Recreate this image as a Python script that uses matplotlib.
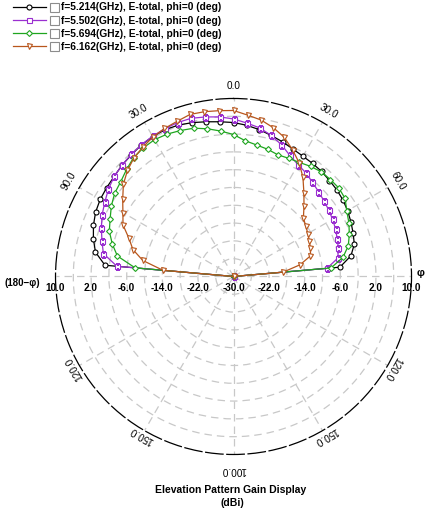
import numpy as np
import matplotlib
matplotlib.use('Agg')  # noqa
import matplotlib.pyplot as plt
from matplotlib.patches import Rectangle
from matplotlib.transforms import offset_copy

# elevation angle (deg), 0 = broadside, clockwise positive
theta_deg = np.arange(-90, 91, 5)

gain_5214 = [-30, -1.0, 1.5, 2.6, 3.5, 4.2, 4.6, 4.8, 5.0, 5.4, 5.7, 6.1, 6.3,
             6.4, 6.2, 5.8, 5.3, 4.9, 4.6, 4.1, 3.5, 2.8, 2.2, 1.6, 1.2, 1.0,
             0.8, 0.5, 0.3, 0.0, -0.4, -0.9, -1.4, -1.9, -3.2, -6.0, -30]
gain_5502 = [-30, -3.7, -0.3, 0.6, 1.6, 2.6, 3.4, 4.3, 5.0, 5.4, 5.8, 6.1, 6.4,
             6.6, 6.8, 6.8, 6.4, 6.0, 5.4, 4.6, 3.9, 2.8, 1.5, 0.0, -1.0, -1.6,
             -2.4, -3.0, -3.5, -3.9, -4.3, -4.7, -5.2, -5.6, -6.2, -8.9, -30]
gain_5694 = [-30, -7.8, -3.5, -1.8, -0.3, 0.6, 1.7, 2.6, 3.1, 4.0, 4.9, 5.3, 5.5,
             5.3, 4.9, 4.5, 3.7, 2.8, 1.9, 0.6, 0.0, -0.4, -0.9, -0.7, -0.4, 0.2,
             0.7, 0.8, 0.9, 0.6, -0.6, -1.4, -2.3, -3.3, -5.0, -8.0, -30]
gain_6162 = [-30, -14.1, -9.3, -6.6, -5.0, -2.6, -1.3, 0.4, 2.3, 3.7, 4.8, 5.5,
             6.2, 6.7, 7.1, 7.7, 7.6, 7.4, 7.3, 6.4, 5.7, 4.6, 3.3, 1.4, -0.5,
             -2.8, -5.4, -7.6, -9.5, -10.2, -10.7, -11.2, -11.6, -12.1, -14.8,
             -18.8, -30]

labels = ['f=5.214(GHz), E-total, phi=0 (deg)',
          'f=5.502(GHz), E-total, phi=0 (deg)',
          'f=5.694(GHz), E-total, phi=0 (deg)',
          'f=6.162(GHz), E-total, phi=0 (deg)']
colors = ['#000000', '#9a2fd0', '#1fa51f', '#b8561c']
markers = ['o', 's', 'D', 'v']

r_tick_labels = [10, 2, -6, -14, -22]
angle_pos = [0, 30, 60, 120, 150, 180, -30, -60, -120, -150]
angle_text = ['0.0', '30.0', '60.0', '120.0', '150.0', '100.0',
              '30.0', '90.0', '120.0', '150.0']

FONT = ['Liberation Sans', 'DejaVu Sans']

fig = plt.figure(figsize=(4.31, 5.11), dpi=100)
ax = fig.add_axes([0.1288, 0.1106, 0.826, 0.6967], projection='polar')
ax.set_theta_zero_location('N')
ax.set_theta_direction(-1)
ax.set_rlim(-30, 10)
ax.set_rticks(np.arange(-26, 10, 4))
ax.set_yticklabels([])
ax.set_thetagrids(np.arange(0, 360, 30), labels=[])
ax.grid(True, color='#c8c8c8', linestyle=(0, (6, 4)), linewidth=0.9)
ax.spines['polar'].set_linestyle((0, (14, 3)))
ax.spines['polar'].set_linewidth(0.9)

th = np.deg2rad(theta_deg)
lines = []
for g, c, m, lab in zip([gain_5214, gain_5502, gain_5694, gain_6162],
                        colors, markers, labels):
    ms = 3.0 if m == 'D' else 3.6
    ln, = ax.plot(th, g, color=c, lw=0.9, marker=m, ms=ms, mfc='white',
                  mec=c, mew=0.8, label=lab)
    lines.append(ln)

# radial value labels along the horizontal axis
below = offset_copy(ax.transData, fig=fig, y=-12, units='dots')
for v in r_tick_labels:
    for side in (-90, 90):
        ax.text(np.deg2rad(side), v, '%.1f' % v, transform=below,
                ha='center', va='center', fontsize=7.2, fontweight='bold',
                family=FONT)
ax.text(0, -30, '-30.0', transform=below, ha='center', va='center',
        fontsize=7.2, fontweight='bold', family=FONT)

# angle labels around the outside
for a, t in zip(angle_pos, angle_text):
    rr = 12.8 if abs(a) < 90 else (11.3 if abs(a) < 180 else 13.6)
    ax.text(np.deg2rad(a), rr, t, rotation=-a, rotation_mode='anchor',
            ha='center', va='center', fontsize=7.2, family=FONT,
            clip_on=False)

fig.text(5 / 431, 1 - 283 / 511, '(180\u2212\u03c6)', ha='left', va='center',
         fontsize=7, fontweight='bold', family=FONT)
fig.text(421 / 431, 1 - 273 / 511, '\u03c6', ha='center', va='center',
         fontsize=8, fontweight='bold', family=FONT)
fig.text(231 / 431, 1 - 490 / 511, 'Elevation Pattern Gain Display',
         ha='center', va='center', fontsize=7.5, fontweight='bold', family=FONT)
fig.text(232 / 431, 1 - 503 / 511, '(dBi)', ha='center', va='center',
         fontsize=7.5, fontweight='bold', family=FONT)

leg = fig.legend(handles=lines, loc='upper left',
                 bbox_to_anchor=(13 / 431, 1 - 2.5 / 511), frameon=False,
                 prop={'family': FONT, 'size': 7.4, 'weight': 'bold'},
                 handlelength=3.2, handletextpad=1.45, labelspacing=0.3,
                 borderpad=0, borderaxespad=0)

# little check boxes between sample line and label
fig.canvas.draw()
for txt in leg.get_texts():
    bb = txt.get_window_extent()
    yc = (bb.y0 + bb.y1) / 2
    fig.add_artist(Rectangle(((bb.x0 - 11) / 431, (yc - 4.5) / 511),
                             9 / 431, 9 / 511, transform=fig.transFigure,
                             facecolor='white', edgecolor='#8c8c8c', lw=0.8))

plt.savefig('out.png', dpi=100)
